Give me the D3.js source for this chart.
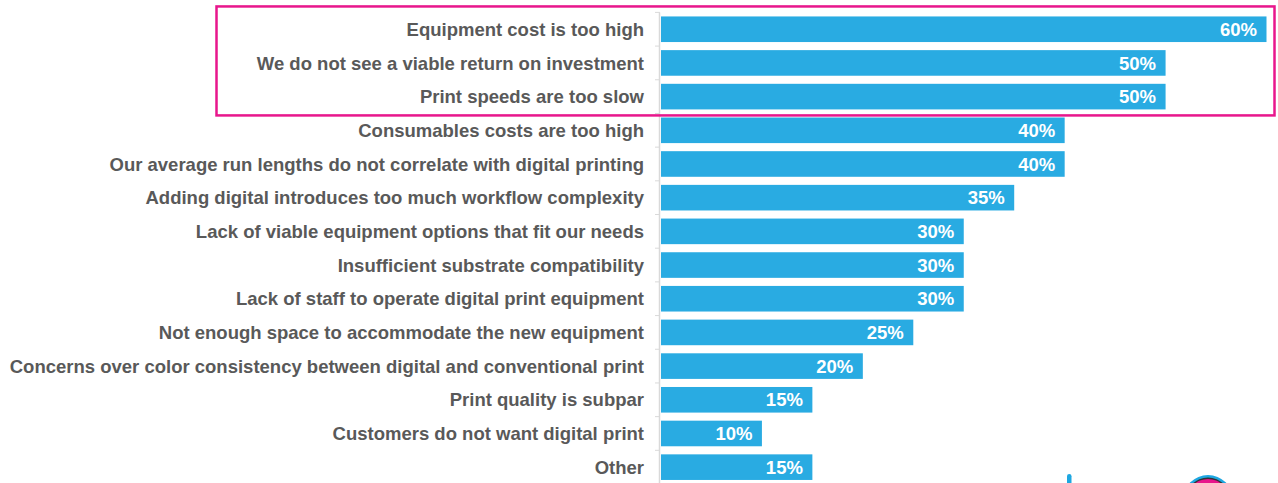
<!DOCTYPE html>
<html>
<head>
<meta charset="utf-8">
<script src="https://cdn.jsdelivr.net/npm/d3@7"></script>
<style>
  html, body { margin: 0; padding: 0; background: #fff; }
  svg { display: block; }
  text { font-family: "Liberation Sans", Arial, sans-serif; font-weight: bold; }
</style>
</head>
<body>
<svg id="chart" width="1278" height="483"></svg>
<script>
// Reasons given for not adopting digital printing (share of respondents)
const categories = [
  "Equipment cost is too high",
  "We do not see a viable return on investment",
  "Print speeds are too slow",
  "Consumables costs are too high",
  "Our average run lengths do not correlate with digital printing",
  "Adding digital introduces too much workflow complexity",
  "Lack of viable equipment options that fit our needs",
  "Insufficient substrate compatibility",
  "Lack of staff to operate digital print equipment",
  "Not enough space to accommodate the new equipment",
  "Concerns over color consistency between digital and conventional print",
  "Print quality is subpar",
  "Customers do not want digital print",
  "Other"
];
const values = [60, 50, 50, 40, 40, 35, 30, 30, 30, 25, 20, 15, 10, 15];
// The top three reasons are boxed for emphasis
const highlighted = categories.slice(0, 3);

const svg = d3.select("#chart");
const x0 = 660, xMaxPx = 1266.5;
const plotTop = 12.4, plotBottom = 484;

const x = d3.scaleLinear().domain([0, 60]).range([x0 + 1, xMaxPx]);
const y = d3.scaleBand().domain(categories).range([plotTop, plotBottom]).paddingInner(0.24).paddingOuter(0.12);

// bars
svg.append("g").selectAll("rect")
  .data(categories)
  .join("rect")
  .attr("x", x(0))
  .attr("y", d => y(d))
  .attr("width", (d, i) => x(values[i]) - x(0))
  .attr("height", y.bandwidth())
  .attr("fill", "#29abe2");

// value labels inside bar ends
svg.append("g").selectAll("text")
  .data(categories)
  .join("text")
  .attr("x", (d, i) => x(values[i]) - 9.5)
  .attr("y", d => y(d) + y.bandwidth() / 2)
  .attr("dy", "0.36em")
  .attr("text-anchor", "end")
  .attr("fill", "#ffffff")
  .attr("font-size", 18.5)
  .text((d, i) => values[i] + "%");

// category axis
const step = y.step();
const axis = svg.append("g").attr("class", "axis");
axis.append("line")
  .attr("x1", x0 - 0.5).attr("x2", x0 - 0.5)
  .attr("y1", y(categories[0]) - y.paddingInner() * step / 2)
  .attr("y2", plotBottom)
  .attr("stroke", "#d9d9d9").attr("stroke-width", 1.5);
axis.selectAll("line.tick")
  .data(categories)
  .join("line")
  .attr("class", "tick")
  .attr("x1", x0 - 5).attr("x2", x0)
  .attr("y1", d => y(d) - y.paddingInner() * step / 2)
  .attr("y2", d => y(d) - y.paddingInner() * step / 2)
  .attr("stroke", "#d9d9d9").attr("stroke-width", 1);

axis.selectAll("text")
  .data(categories)
  .join("text")
  .attr("x", 644)
  .attr("y", d => y(d) + y.bandwidth() / 2)
  .attr("dy", "0.36em")
  .attr("text-anchor", "end")
  .attr("fill", "#595959")
  .attr("font-size", 18.5)
  .text(d => d);

// emphasis frame around the leading reasons
const hTop = y(highlighted[0]);
const hBot = y(highlighted[highlighted.length - 1]) + y.bandwidth();
svg.append("rect")
  .attr("x", 216.5)
  .attr("y", hTop - 10)
  .attr("width", 1274.5 - 216.5)
  .attr("height", hBot - hTop + 16)
  .attr("fill", "none")
  .attr("stroke", "#e8168c")
  .attr("stroke-width", 2.5);

// corner logo fragments
const logo = svg.append("g");
logo.append("rect")
  .attr("x", 1067).attr("y", 474).attr("width", 4.5).attr("height", 14).attr("rx", 2.2)
  .attr("fill", "#1ea7e1");
logo.append("circle").attr("cx", 1208).attr("cy", 500).attr("r", 25).attr("fill", "#1ea7e1");
logo.append("circle").attr("cx", 1208).attr("cy", 500).attr("r", 22.5).attr("fill", "#333");
logo.append("circle").attr("cx", 1208).attr("cy", 500).attr("r", 21).attr("fill", "#e8168c");
</script>
</body>
</html>
